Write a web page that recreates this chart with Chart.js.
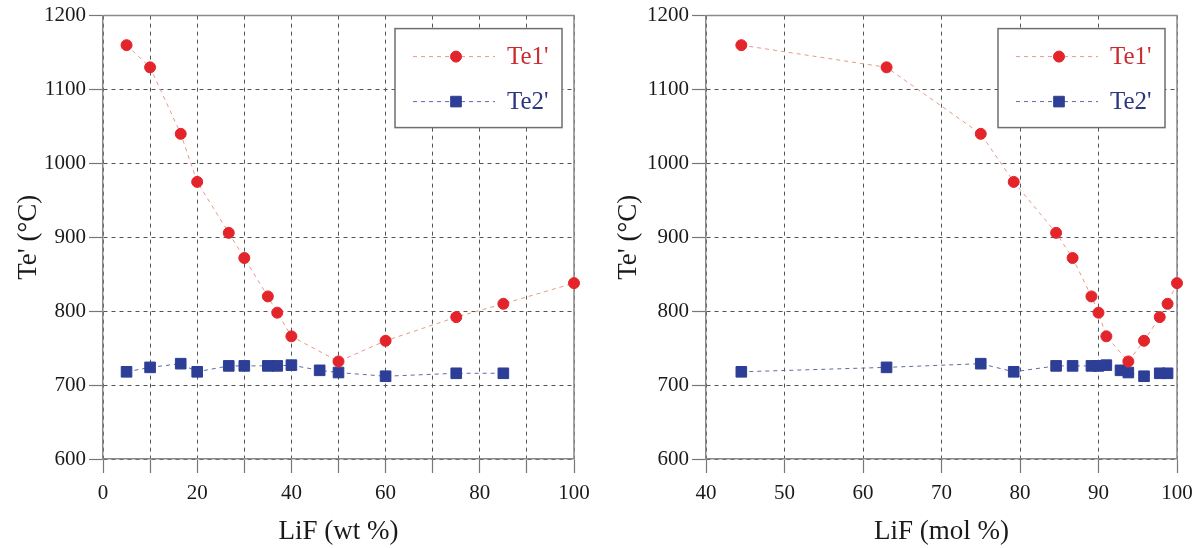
<!DOCTYPE html>
<html>
<head>
<meta charset="utf-8">
<script src="https://cdn.jsdelivr.net/npm/chart.js@4"></script>
<style>
  body { margin: 0; background: #fff; width: 1202px; height: 548px; overflow: hidden; position: relative; }
  .pane { position: absolute; top: 0; height: 548px; }
</style>
</head>
<body>
<div class="pane" style="left:0;width:600px"><canvas id="wt" width="600" height="548"></canvas></div>
<div class="pane" style="left:600px;width:602px"><canvas id="mol" width="602" height="548"></canvas></div>
<script>
// compositions (same samples, two units)
const lifWt = [5, 10, 16.5, 20, 26.7, 30, 35, 37, 40, 46, 50, 60, 75, 85, 100];
const lifMol = [44.5, 63, 75, 79.2, 84.6, 86.7, 89.1, 90, 91, 92.8, 93.8, 95.8, 97.8, 98.8, 100];
// Te' values, degC (null = not measured)
const te1 = [1160, 1130, 1040, 975, 906, 872, 820, 798, 766, null, 732, 760, 792, 810, 838];
const te2 = [718, 724, 729, 718, 726, 726, 726, 726, 727, 720, 717, 712, 716, 716, null];
const seriesNames = ["Te1'", "Te2'"];

const serif = 'Liberation Serif';

function pts(xs, ys) {
  return xs.map((x, i) => ({x: x, y: ys[i]}));
}

const frame = {
  id: 'frame',
  beforeDatasetsDraw(chart) {
    const {ctx, chartArea: a} = chart;
    ctx.save();
    ctx.strokeStyle = '#8a8a8a';
    ctx.lineWidth = 1.5;
    ctx.beginPath();
    ctx.moveTo(a.left, a.top);
    ctx.lineTo(a.right, a.top);
    ctx.lineTo(a.right, a.bottom);
    ctx.stroke();
    ctx.restore();
  }
};

const boxLegend = {
  id: 'boxLegend',
  afterDraw(chart) {
    const {ctx, chartArea: a} = chart;
    const w = 167, h = 99;
    const x0 = a.right - 12 - w, y0 = a.top + 13;
    ctx.save();
    ctx.fillStyle = '#fff';
    ctx.fillRect(x0, y0, w, h);
    ctx.strokeStyle = '#6e6e6e';
    ctx.lineWidth = 1.5;
    ctx.strokeRect(x0, y0, w, h);
    chart.data.datasets.forEach((ds, i) => {
      const cy = y0 + 28 + i * 45;
      ctx.save();
      ctx.strokeStyle = ds.borderColor;
      ctx.lineWidth = 1;
      ctx.setLineDash([4, 4]);
      ctx.beginPath();
      ctx.moveTo(x0 + 18, cy);
      ctx.lineTo(x0 + 100, cy);
      ctx.stroke();
      ctx.restore();
      ctx.fillStyle = ds.pointBackgroundColor;
      ctx.strokeStyle = ds.pointBorderColor;
      ctx.lineWidth = 1;
      Chart.helpers.drawPoint(ctx, {pointStyle: ds.pointStyle, radius: ds.pointRadius, borderWidth: 1}, x0 + 61, cy);
      ctx.fillStyle = ds.textColor;
      ctx.font = '25px "' + serif + '"';
      ctx.textBaseline = 'middle';
      ctx.textAlign = 'left';
      ctx.fillText(ds.label, x0 + 112, cy + 1);
    });
    ctx.restore();
  }
};

function makeChart(id, xs, xMin, xTitle, labelEvery, padRight, yWidth) {
  return new Chart(document.getElementById(id), {
    type: 'scatter',
    data: {
      datasets: [
        {
          label: seriesNames[0],
          data: pts(xs, te1),
          showLine: true,
          spanGaps: true,
          clip: false,
          borderColor: '#e59a86',
          borderWidth: 1,
          borderDash: [4, 4],
          pointStyle: 'circle',
          pointRadius: 5.5,
          pointBackgroundColor: '#e3242b',
          pointBorderColor: '#e3242b',
          textColor: '#c92b30'
        },
        {
          label: seriesNames[1],
          data: pts(xs, te2),
          showLine: true,
          spanGaps: true,
          clip: false,
          borderColor: '#5d6aa6',
          borderWidth: 1,
          borderDash: [4, 4],
          pointStyle: 'rect',
          pointRadius: 7.5,
          pointBackgroundColor: '#2d3e96',
          pointBorderColor: '#2d3e96',
          textColor: '#2c3580'
        }
      ]
    },
    options: {
      responsive: false,
      animation: false,
      devicePixelRatio: 1,
      layout: {padding: {top: 15, right: padRight, left: 0, bottom: 0}},
      plugins: {legend: {display: false}, tooltip: {enabled: false}},
      scales: {
        x: {
          type: 'linear',
          min: xMin,
          max: 100,
          afterFit: s => { s.height = 89; },
          ticks: {
            stepSize: 10,
            autoSkip: false,
            maxRotation: 0,
            padding: 8,
            color: '#1a1a1a',
            font: {family: serif, size: 21},
            callback: v => (v % labelEvery === 0 ? String(v) : '')
          },
          grid: {color: '#555', lineWidth: 1, tickLength: 14, tickColor: '#777', tickBorderDash: [], tickWidth: 1.2},
          border: {color: '#8a8a8a', width: 1.5, dash: [4, 4]},
          title: {display: true, text: xTitle, color: '#1a1a1a', font: {family: serif, size: 27}, padding: {top: 0, bottom: 0}}
        },
        y: {
          min: 600,
          max: 1200,
          afterFit: s => { s.width = yWidth; },
          ticks: {
            stepSize: 100,
            padding: 3,
            color: '#1a1a1a',
            font: {family: serif, size: 21},
            callback: v => String(v)
          },
          grid: {color: '#555', lineWidth: 1, tickLength: 14, tickColor: '#777', tickBorderDash: [], tickWidth: 1.2},
          border: {color: '#8a8a8a', width: 1.5, dash: [4, 4]},
          title: {display: true, text: "Te' (\u00b0C)", color: '#1a1a1a', font: {family: serif, size: 27}, padding: {top: 13, bottom: 0}}
        }
      }
    },
    plugins: [frame, boxLegend]
  });
}

makeChart('wt', lifWt, 0, 'LiF (wt %)', 20, 26, 103);
makeChart('mol', lifMol, 40, 'LiF (mol %)', 10, 25, 106);
</script>
</body>
</html>
